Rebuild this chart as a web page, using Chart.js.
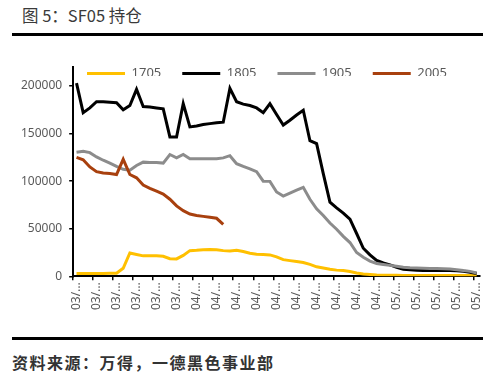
<!DOCTYPE html>
<html>
<head>
<meta charset="utf-8">
<script src="https://cdn.jsdelivr.net/npm/chart.js@4/dist/chart.umd.min.js"></script>
<style>
  html, body { margin: 0; padding: 0; background: #fff; }
  body { width: 500px; height: 376px; position: relative; overflow: hidden; }
  .title { position: absolute; left: 22px; top: 3px; font: 16.5px "Noto Sans CJK SC", "Noto Sans", sans-serif; color: #3a3a3a; white-space: pre; }
  .rule { position: absolute; left: 12px; width: 471px; height: 3px; background: #000; }
  .source { position: absolute; left: 12px; top: 350px; font: bold 16px "Noto Sans CJK SC", "Noto Sans", sans-serif; color: #333; letter-spacing: 1.5px; }
  #chart { position: absolute; left: 0; top: 40px; }
</style>
</head>
<body>
<div class="title">图 5：SF05 持仓</div>
<div class="rule" style="top:33px"></div>
<canvas id="chart" width="500" height="292"></canvas>
<div class="rule" style="top:337px"></div>
<div class="source">资料来源：万得，一德黑色事业部</div>
<script>
// dates 03/14 .. 05/13
const dates = [
    '03/14', '03/15', '03/16', '03/17', '03/18', '03/19', '03/20', '03/21', '03/22', '03/23',
    '03/24', '03/25', '03/26', '03/27', '03/28', '03/29', '03/30', '03/31',
    '04/01', '04/02', '04/03', '04/04', '04/05', '04/06', '04/07', '04/08', '04/09', '04/10',
    '04/11', '04/12', '04/13', '04/14', '04/15', '04/16', '04/17', '04/18', '04/19', '04/20',
    '04/21', '04/22', '04/23', '04/24', '04/25', '04/26', '04/27', '04/28', '04/29', '04/30',
    '05/01', '05/02', '05/03', '05/04', '05/05', '05/06', '05/07', '05/08', '05/09', '05/10',
    '05/11', '05/12', '05/13'
];

const sf1705 = [
    3000, 3000, 3000, 3000, 3000, 3100, 3300, 8500, 24500, 23000,
    21500, 21500, 21500, 21000, 18500, 18300, 22000, 27000, 27300, 27800,
    28200, 28000, 27000, 26600, 27300, 26000, 24200, 23200, 23000, 22500,
    20500, 17500, 16500, 15500, 14500, 12500, 10000, 8800, 7400, 6500,
    6000, 5000, 3500, 2500, 2000, 1500, 1200, 1000, 1000, 900,
    900, 900, 800, 800, 800, 800, 800, 800, 800, 800,
    800
];

const sf1805 = [
    203000, 172000, 177000, 183500, 183500, 183000, 182500, 175000, 179500, 196500,
    178500, 178000, 177000, 176000, 146500, 146500, 181500, 157000, 158000, 159500,
    160500, 161500, 162000, 197500, 183500, 181000, 179500, 177000, 172000, 181500,
    170000, 159000, 164000, 169500, 174500, 142500, 139500, 108000, 78000, 72000,
    66500, 60000, 45000, 29500, 22500, 16800, 14000, 12000, 9500, 7500,
    6800, 6500, 6200, 6000, 6000, 6000, 6000, 5800, 5300, 4200,
    2900
];

const sf1905 = [
    130500, 131500, 130000, 125500, 122000, 119000, 115500, 112500, 111500, 116500,
    120000, 119500, 119500, 119000, 128000, 124500, 128000, 123500, 123500, 123500,
    123500, 123500, 124500, 126800, 118300, 115500, 113000, 110000, 100000, 99800,
    88600, 84300, 87500, 90500, 93500, 81000, 71000, 64000, 56000, 49500,
    42000, 35500, 25000, 20000, 16000, 13500, 12500, 11500, 10500, 9500,
    9000, 8700, 8500, 8300, 8200, 8000, 7800, 7000, 6000, 5200,
    3500
];

const sf2005 = [
    125000, 122500, 115000, 110000, 108500, 108000, 107000, 123000, 107000, 103500,
    96000, 92500, 89500, 86500, 81000, 74000, 69000, 65500, 64000, 63000,
    62000, 61000, 54500
];

const yTicks = [0, 50000, 100000, 150000, 200000];

const seriesNames = ['1705', '1805', '1905', '2005'];
const seriesColors = ['#FFC000', '#000000', '#8C8C8C', '#A8400E'];

const axisFont = { family: '"Noto Sans", sans-serif', size: 12 };

// legend sits inside the plot area (no height reserved), shifted into place
const legendPlace = {
    id: 'legendPlace',
    beforeInit(chart) {
        const fit = chart.legend && chart.legend.fit;
        if (!fit) return;
        chart.legend.fit = function () {
            fit.bind(this)();
            this.height = 0;
        };
    },
    afterLayout(chart, _args, opts) {
        const lg = chart.legend;
        lg.top = opts.top;
        lg.bottom = opts.top + 30;
        lg.left += opts.dx;
        lg.right += opts.dx;
    }
};

const ctx = document.getElementById('chart');
const allSeries = [sf1705, sf1805, sf1905, sf2005];

new Chart(ctx, {
    type: 'line',
    data: {
        labels: dates,
        datasets: allSeries.map((values, i) => ({
            label: seriesNames[i],
            data: values,
            borderColor: seriesColors[i],
            backgroundColor: seriesColors[i],
            borderWidth: 3,
            pointRadius: 0,
            tension: 0,
            fill: false,
            order: 3 - i
        }))
    },
    options: {
        responsive: false,
        animation: false,
        layout: {
            padding: { top: 27, left: 14, right: 20, bottom: 20 }
        },
        plugins: {
            tooltip: { enabled: false },
            legendPlace: { top: 6, dx: 20 },
            legend: {
                position: 'top',
                labels: {
                    boxWidth: 38,
                    boxHeight: 3,
                    padding: 21,
                    color: '#595959',
                    font: { family: '"Noto Sans", sans-serif', size: 13 },
                    sort: (a, b) => a.datasetIndex - b.datasetIndex,
                    generateLabels(chart) {
                        const items = Chart.defaults.plugins.legend.labels.generateLabels(chart);
                        items.forEach(item => {
                            item.fillStyle = item.strokeStyle;
                            item.lineWidth = 0;
                        });
                        return items;
                    }
                }
            }
        },
        scales: {
            x: {
                offset: true,
                border: { color: '#000', width: 2 },
                grid: {
                    offset: true,
                    drawOnChartArea: false,
                    drawTicks: true,
                    tickLength: 4,
                    lineWidth: 1.5,
                    tickColor: c => (c.index % 3 === 0 ? '#000' : 'rgba(0,0,0,0)')
                },
                ticks: {
                    autoSkip: false,
                    minRotation: 90,
                    maxRotation: 90,
                    padding: 2,
                    color: '#595959',
                    font: axisFont,
                    callback: function (value, index) {
                        if (index % 3 !== 0) return '';
                        return this.getLabelForValue(value).slice(0, 3) + '…';
                    }
                }
            },
            y: {
                min: 0,
                max: 220000,
                border: { color: '#000', width: 2 },
                grid: {
                    drawOnChartArea: false,
                    drawTicks: true,
                    tickLength: 4,
                    lineWidth: 1.5,
                    tickColor: '#000'
                },
                afterBuildTicks: scale => {
                    scale.ticks = yTicks.map(v => ({ value: v }));
                },
                ticks: {
                    padding: 7,
                    color: '#595959',
                    font: axisFont,
                    callback: value => String(value)
                }
            }
        }
    },
    plugins: [legendPlace]
});
</script>
</body>
</html>
